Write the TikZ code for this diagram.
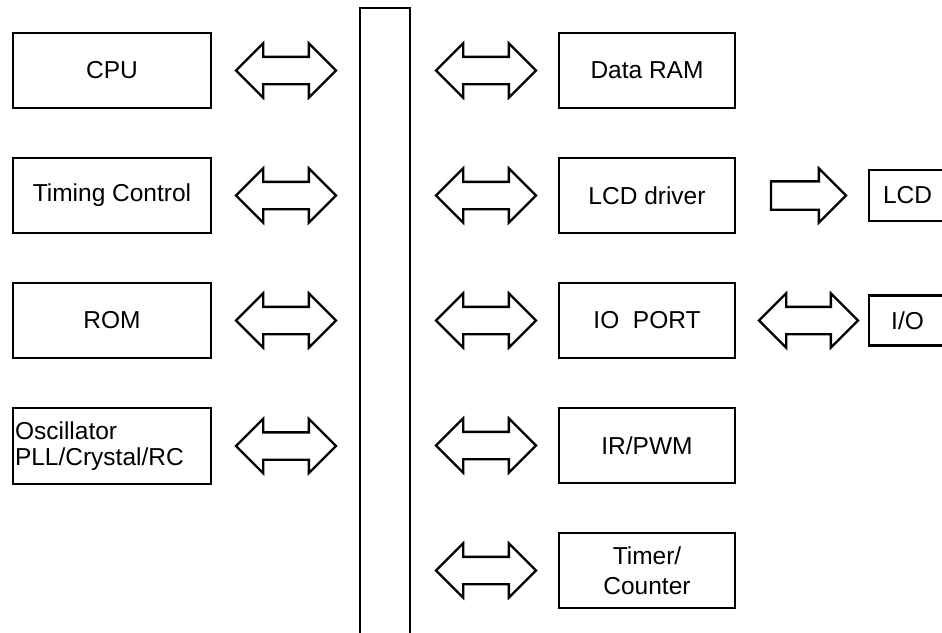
\documentclass[tikz,border=0pt]{standalone}
\usepackage{fontspec}
\setmainfont{Liberation Sans}
\usetikzlibrary{positioning, shapes.arrows}

\begin{document}
\begin{tikzpicture}[node distance=50pt, line width=2.3pt, font=\fontsize{24.5}{30}\selectfont]
		% styles
			\tikzstyle{blk} = [rectangle, draw, outer sep=0pt, minimum width=198pt, minimum height=75pt, align=center]
			\tikzstyle{rblk} = [blk, minimum width=176pt]
			\tikzstyle{ext} = [blk, minimum width=77pt, minimum height=51pt]
			\tikzstyle{dbl} = [double arrow, draw, outer sep=0pt, minimum height=100pt, inner xsep=0pt, inner ysep=12.5pt, double arrow head extend=13.5pt]
			\tikzstyle{sgl} = [single arrow, draw, outer sep=0pt, minimum height=75pt, inner xsep=0pt, inner ysep=13pt, single arrow head extend=13pt]
			
			\useasboundingbox (0,0) rectangle (942pt,-632pt);
			\clip (0,0) rectangle (942pt,-632pt);
			
			% bus
			\node [draw, outer sep=0pt, minimum width=50pt, minimum height=632pt] (bus) at (385pt,-324pt) {};
			
			% left column
			\node [blk] (cpu) at (112pt,-70.5pt) {CPU};
			\node [blk, below=of cpu] (timing) {Timing Control};
			\node [blk, below=of timing] (rom) {ROM};
			\node [blk, below=of rom, minimum height=76pt, align=left, text width=194pt, inner xsep=2pt, font=\fontsize{24.5}{26}\selectfont] (osc) {Oscillator\\PLL/Crystal/RC};
			
			\node [dbl, right=25pt of cpu] (acpu) {};
			\node [dbl, right=25pt of timing] (atiming) {};
			\node [dbl, right=25pt of rom] (arom) {};
			\node [dbl, right=25pt of osc] (aosc) {};
			
			% right column
			\node [rblk] (ram) at (647pt,-70.5pt) {Data RAM};
			\node [rblk, below=of ram] (lcddrv) {LCD driver};
			\node [rblk, below=of lcddrv] (ioport) {IO\ \ PORT};
			\node [rblk, below=of ioport] (irpwm) {IR/PWM};
			\node [rblk, below=of irpwm] (timer) {Timer/\\Counter};
			
			\node [dbl, left=23pt of ram] (aram) {};
			\node [dbl, left=23pt of lcddrv] (alcddrv) {};
			\node [dbl, left=23pt of ioport] (aioport) {};
			\node [dbl, left=23pt of irpwm] (airpwm) {};
			\node [dbl, left=23pt of timer] (atimer) {};
			
			% outside
			\node [sgl, right=36pt of lcddrv] (alcd) {};
			\node [ext, right=23pt of alcd] (lcd) {LCD};
			\node [dbl, right=24pt of ioport, minimum height=99pt] (aio) {};
			\node [ext, right=11pt of aio, minimum height=50pt] (io) {I/O};
		\end{tikzpicture}
\end{document}
